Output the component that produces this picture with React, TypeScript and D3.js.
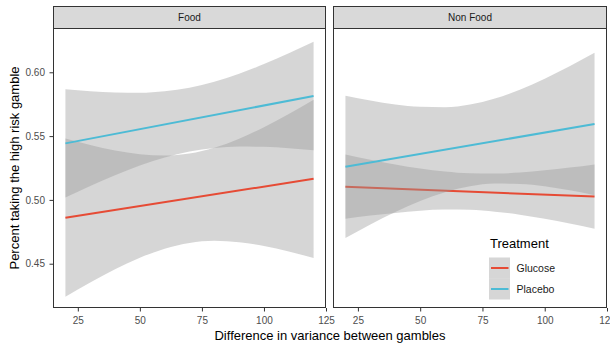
import React, { useEffect, useRef } from "react";
import * as d3 from "d3";

// values
const panels = ["Food", "Non Food"];
const treatments = ["Glucose", "Placebo"];
const treatmentColors = ["#E64B35", "#4DBBD5"];

const xGrid = [20, 30, 40, 50, 60, 70, 80, 90, 100, 110, 120];
const fitX = [20, 120];

const foodGlucoseFit = [0.4861, 0.5165];
const foodGlucoseLower = [0.4241, 0.4352, 0.4456, 0.4547, 0.4618, 0.4663, 0.4679, 0.4668, 0.4639, 0.4596, 0.4545];
const foodGlucoseUpper = [0.5481, 0.543, 0.5387, 0.5358, 0.5347, 0.5363, 0.5408, 0.5479, 0.557, 0.5673, 0.5785];
const foodPlaceboFit = [0.5443, 0.5814];
const foodPlaceboLower = [0.5018, 0.5108, 0.5193, 0.5269, 0.5333, 0.5379, 0.5407, 0.5418, 0.5416, 0.5405, 0.5389];
const foodPlaceboUpper = [0.5868, 0.5852, 0.5841, 0.5839, 0.5851, 0.5879, 0.5925, 0.5988, 0.6064, 0.6149, 0.6239];

const nonFoodGlucoseFit = [0.5104, 0.5026];
const nonFoodGlucoseLower = [0.4852, 0.4877, 0.4898, 0.4916, 0.4924, 0.4922, 0.4908, 0.4884, 0.4852, 0.4815, 0.4774];
const nonFoodGlucoseUpper = [0.5356, 0.5315, 0.5278, 0.5246, 0.5222, 0.5208, 0.5206, 0.5214, 0.5232, 0.5253, 0.5278];
const nonFoodPlaceboFit = [0.5259, 0.5595];
const nonFoodPlaceboLower = [0.4701, 0.4807, 0.4905, 0.4991, 0.506, 0.5107, 0.5128, 0.5125, 0.5107, 0.5075, 0.5037];
const nonFoodPlaceboUpper = [0.5817, 0.5779, 0.5748, 0.5729, 0.5726, 0.5747, 0.5794, 0.5863, 0.595, 0.6047, 0.6153];

const xTicks = [25, 50, 75, 100, 125];
const yTicks = [0.45, 0.5, 0.55, 0.6];

const FONT = "'Liberation Sans', Arial, Helvetica, sans-serif";

function FacetChart() {
  const ref = useRef<SVGSVGElement | null>(null);

  useEffect(() => {
    if (!ref.current) return;
    const svg = d3.select(ref.current);
    svg.selectAll("*").remove();

    const plotTop = 28;
    const plotBottom = 308;
    const stripTop = 6;
    const panelX = [
      [53, 326],
      [333, 607],
    ];

    const y = d3.scaleLinear().domain([0.4153, 0.6347]).range([plotBottom, plotTop]);

    const bands = [
      [
        { fit: foodGlucoseFit, lower: foodGlucoseLower, upper: foodGlucoseUpper },
        { fit: foodPlaceboFit, lower: foodPlaceboLower, upper: foodPlaceboUpper },
      ],
      [
        { fit: nonFoodGlucoseFit, lower: nonFoodGlucoseLower, upper: nonFoodGlucoseUpper },
        { fit: nonFoodPlaceboFit, lower: nonFoodPlaceboLower, upper: nonFoodPlaceboUpper },
      ],
    ];

    panels.forEach((name, p) => {
      const [x0, x1] = panelX[p];
      const x = d3.scaleLinear().domain([15, 125]).range([x0, x1]);
      const g = svg.append("g");

      // ribbons and fitted lines, drawn group by group like geom_smooth
      bands[p].forEach((b, i) => {
        const area = d3
          .area<number>()
          .x((_, k) => x(xGrid[k]))
          .y0((_, k) => y(b.lower[k]))
          .y1((_, k) => y(b.upper[k]))
          .curve(d3.curveMonotoneX);
        g.append("path")
          .attr("d", area(xGrid))
          .attr("fill", "#999999")
          .attr("fill-opacity", 0.4);

        const line = d3
          .line<number>()
          .x((_, k) => x(fitX[k]))
          .y((d) => y(d));
        g.append("path")
          .attr("d", line(b.fit))
          .attr("fill", "none")
          .attr("stroke", treatmentColors[i])
          .attr("stroke-width", 2);
      });

      // panel border
      g.append("rect")
        .attr("x", x0 + 0.5)
        .attr("y", plotTop + 0.5)
        .attr("width", x1 - x0 - 1)
        .attr("height", plotBottom - plotTop - 1)
        .attr("fill", "none")
        .attr("stroke", "#333333")
        .attr("stroke-width", 1);

      // strip
      g.append("rect")
        .attr("x", x0 + 0.5)
        .attr("y", stripTop + 0.5)
        .attr("width", x1 - x0 - 1)
        .attr("height", plotTop - stripTop)
        .attr("fill", "#d9d9d9")
        .attr("stroke", "#333333")
        .attr("stroke-width", 1);
      g.append("text")
        .attr("x", (x0 + x1) / 2)
        .attr("y", 20.5)
        .attr("text-anchor", "middle")
        .attr("font-family", FONT)
        .attr("font-size", 10)
        .attr("fill", "#1a1a1a")
        .text(name);

      // x axis
      const xa = g
        .append("g")
        .attr("transform", `translate(0,${plotBottom})`)
        .call(d3.axisBottom(x).tickValues(xTicks).tickSize(3.5).tickPadding(5).tickFormat(d3.format("d")));
      xa.select(".domain").remove();
      xa.selectAll("line").attr("stroke", "#333333");
      xa.selectAll("text").attr("fill", "#4d4d4d").attr("font-size", 10).attr("font-family", FONT);

      if (p === 0) {
        const ya = g
          .append("g")
          .attr("transform", `translate(${x0},0)`)
          .call(d3.axisLeft(y).tickValues(yTicks).tickSize(3.5).tickPadding(4.5).tickFormat(d3.format(".2f")));
        ya.select(".domain").remove();
        ya.selectAll("line").attr("stroke", "#333333");
        ya.selectAll("text").attr("fill", "#4d4d4d").attr("font-size", 10).attr("font-family", FONT);
      }
    });

    // axis titles
    svg.append("text")
      .attr("x", 330)
      .attr("y", 339.5)
      .attr("text-anchor", "middle")
      .attr("font-family", FONT)
      .attr("font-size", 13)
      .attr("fill", "#000")
      .text("Difference in variance between gambles");

    svg.append("text")
      .attr("transform", `translate(18.5,${(plotTop + plotBottom) / 2}) rotate(-90)`)
      .attr("text-anchor", "middle")
      .attr("font-family", FONT)
      .attr("font-size", 13)
      .attr("fill", "#000")
      .text("Percent taking the high risk gamble");

    // legend
    const legend = svg.append("g").attr("transform", "translate(489,0)");
    legend.append("text")
      .attr("x", 1)
      .attr("y", 248)
      .attr("font-family", FONT)
      .attr("font-size", 13)
      .attr("fill", "#000")
      .text("Treatment");
    treatments.forEach((t, i) => {
      const top = 257.5 + i * 21;
      legend.append("rect")
        .attr("x", 0)
        .attr("y", top)
        .attr("width", 21)
        .attr("height", 21)
        .attr("fill", "#999999")
        .attr("fill-opacity", 0.4);
      legend.append("line")
        .attr("x1", 2)
        .attr("x2", 19.5)
        .attr("y1", top + 10.5)
        .attr("y2", top + 10.5)
        .attr("stroke", treatmentColors[i])
        .attr("stroke-width", 2);
      legend.append("text")
        .attr("x", 27.5)
        .attr("y", top + 14)
        .attr("font-family", FONT)
        .attr("font-size", 10.5)
        .attr("fill", "#1a1a1a")
        .text(t);
    });
  }, []);

  return (
    <svg
      ref={ref}
      width={610}
      height={344}
      style={{ position: "absolute", left: 0, top: 0, background: "#fff" }}
    />
  );
}

export default function App() {
  return <FacetChart />;
}
